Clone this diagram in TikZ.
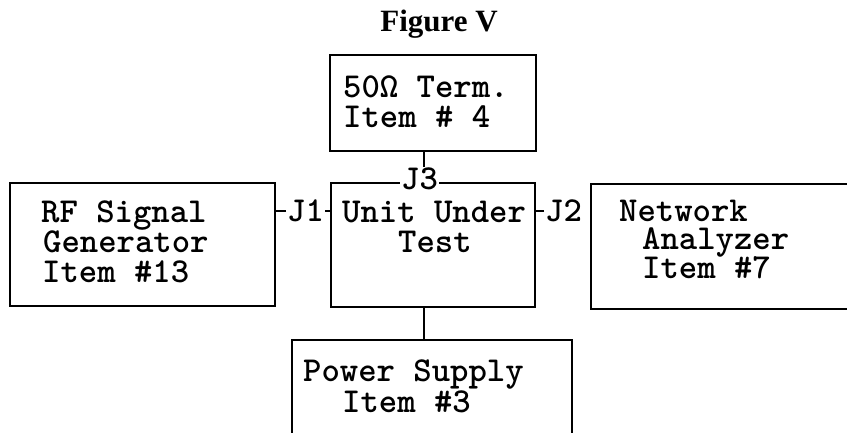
\documentclass[tikz,border=0pt]{standalone}
\usepackage{fontspec}
\newfontfamily\titlef{Liberation Serif}
\begin{document}
\begin{tikzpicture}[x=1pt,y=-1pt,
  box/.style={draw,line width=2pt,inner sep=0pt},
  line/.style={line width=2pt},
  txt/.style={anchor=base west,inner sep=0pt,font=\ttfamily\bfseries\fontsize{35}{30}\selectfont},
  jlab/.style={anchor=base west,inner sep=1pt,fill=white,font=\ttfamily\bfseries\fontsize{35}{30}\selectfont}]
\useasboundingbox (0,0) rectangle (847,433);
\node[anchor=base,inner sep=0pt,font=\titlef\bfseries\fontsize{31}{31}\selectfont] (title) at (439,32) {Figure V};
% boxes
\node[box,minimum width=206pt,minimum height=96pt] (term) at (433,103) {};
\node[box,minimum width=204pt,minimum height=124pt] (uut) at (433,245) {};
\node[box,minimum width=265pt,minimum height=123pt] (rf) at (142.5,244.5) {};
\coordinate (naTL) at (591,184);
\coordinate (naTR) at (847,184);
\coordinate (naBR) at (847,309);
\coordinate (psTL) at (292,340);
\coordinate (psTR) at (572,340);
\coordinate (psTop) at (424,340);
\coordinate (termTap) at (424,151);
\draw[line] (naTR) -- (naTL) |- (naBR);
\draw[line] (292,433) -- (psTL) -- (psTR) -- (572,433);
% texts
\node[txt] (t1) at (343,98) {50Ω Term.};
\node[txt] (t2) at (343,128) {Item \# 4};
\node[txt] (u1) at (342,223) {Unit Under};
\node[txt] (u2) at (398,252) {Test};
\node[txt] (r1) at (41,223) {RF Signal};
\node[txt] (r2) at (43,253) {Generator};
\node[txt] (r3) at (42,283) {Item \#13};
\node[txt] (n1) at (619,222) {Network};
\node[txt] (n2) at (642,250) {Analyzer};
\node[txt] (n3) at (642,279) {Item \#7};
\node[txt] (p1) at (303,381) {Power Supply};
\node[txt] (p2) at (342,412) {Item \#3};
% jack labels
\node[jlab] (j3) at (400,190) {J3};
\node[jlab,fill=none] (j1) at (286,222) {J1};
\node[jlab,fill=none] (j2) at (544,222) {J2};
% connectors
\draw[line] (termTap) -- (termTap |- j3.north);
\draw[line] (psTop |- uut.south) -- (psTop);
\draw[line] (j1.west) -- (j1.west -| rf.east);
\draw[line] (j1.east) -- (j1.east -| uut.west);
\draw[line] (j2.west) -- (j2.west -| uut.east);
\end{tikzpicture}
\end{document}
